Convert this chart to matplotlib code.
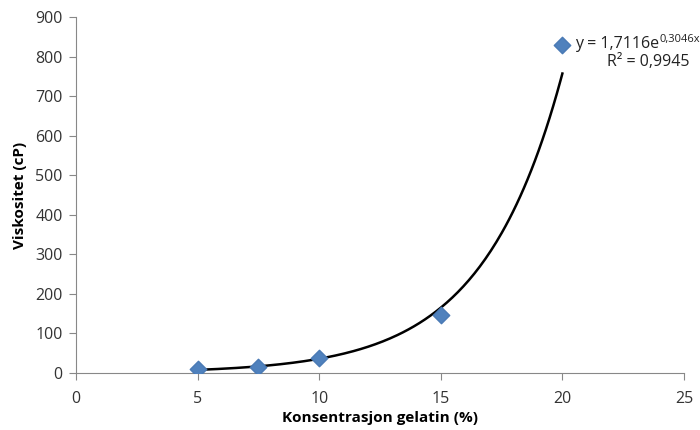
import numpy as np
import matplotlib
matplotlib.use('Agg')
import matplotlib.pyplot as plt

# Målinger: viskositet mot gelatinkonsentrasjon
konsentrasjon = [5, 7.5, 10, 15, 20]
viskositet = [10, 14, 37, 147, 830]

# Eksponentiell trendlinje y = a*e^(b*x)
a = 1.7116
b = 0.3046
r2 = 0.9945

plt.rcParams['font.family'] = ['Open Sans', 'DejaVu Sans']

fig = plt.figure(figsize=(7, 4.3), dpi=100)
ax = fig.add_axes([0.1086, 0.1326, 0.8685, 0.8279])

xs = np.linspace(min(konsentrasjon), max(konsentrasjon), 200)
ax.plot(xs, a * np.exp(b * xs), color='black', lw=1.8, zorder=2)
ax.scatter(konsentrasjon, viskositet, marker='D', s=70, color='#4f81bd',
           edgecolors='#4a7ab5', zorder=3)

ax.set_xlim(0, 25)
ax.set_ylim(0, 900)
ax.set_xticks(range(0, 26, 5))
ax.set_yticks(range(0, 901, 100))

for side in ['top', 'right']:
    ax.spines[side].set_visible(False)
for side in ['left', 'bottom']:
    ax.spines[side].set_color('#888888')
ax.tick_params(colors='#888888', labelcolor='#333333', labelsize=11.5, length=5)
ax.tick_params(axis='x', pad=8)
ax.tick_params(axis='y', pad=4.5)

ax.set_xlabel('Konsentrasjon gelatin (%)', fontsize=11, fontweight='bold', labelpad=3)
ax.set_ylabel('Viskositet (cP)', fontsize=11, fontweight='bold', labelpad=6)

# Trendlinjeetikett med eksponent som egen hevet tekst
eq = ax.text(20.52, 832, 'y = 1,7116e', fontsize=11.5, va='center', ha='left',
             color='#222222')
ax.annotate('0,3046x', xy=(1, 1), xycoords=eq, xytext=(0.5, 1.5),
            textcoords='offset points', fontsize=8, va='top', ha='left',
            color='#222222')
ax.text(21.85, 786, 'R² = 0,9945', fontsize=11.5, va='center', ha='left',
        color='#222222')

fig.savefig('out.png', dpi=100)
